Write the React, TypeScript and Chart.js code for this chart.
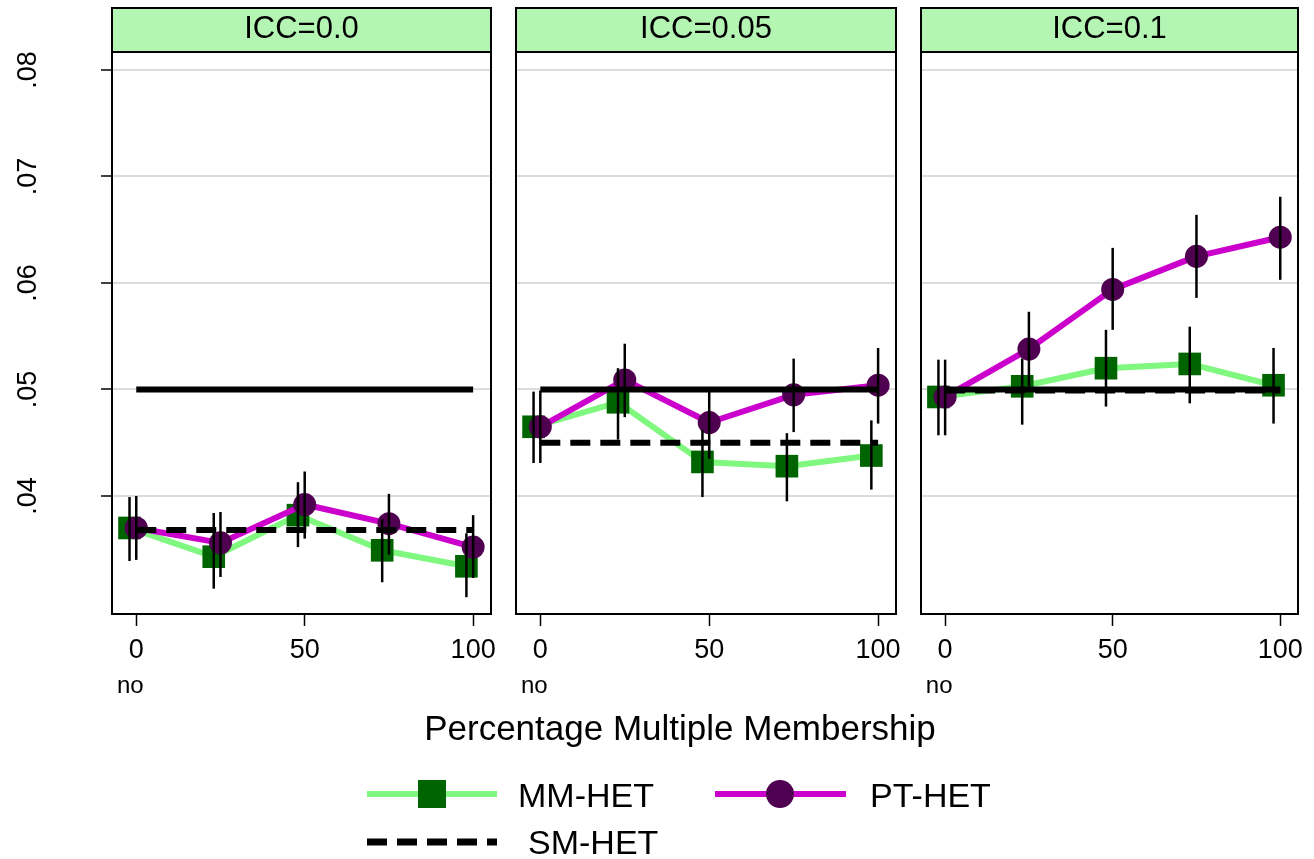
import React, { useEffect, useRef } from 'react';
import { Chart, registerables } from 'chart.js';

Chart.register(...registerables);

// ---------------- data ----------------
const panelTitles = ['ICC=0.0', 'ICC=0.05', 'ICC=0.1'];
const xValues = [0, 25, 50, 75, 100];
const mmJitter = -2; // MM-HET markers are drawn slightly left of the x value
const xTicks = [0, 50, 100];
const yTicks = [0.04, 0.05, 0.06, 0.07, 0.08];
const nominal = 0.05;

const mmHet = [
  [0.037, 0.0343, 0.0382, 0.0349, 0.0334],
  [0.0465, 0.0488, 0.0432, 0.0428, 0.0438],
  [0.0493, 0.0503, 0.052, 0.0524, 0.0504],
];
const mmLow = [
  [0.0339, 0.0313, 0.0352, 0.0319, 0.0305],
  [0.0431, 0.0453, 0.0399, 0.0395, 0.0406],
  [0.0457, 0.0467, 0.0484, 0.0487, 0.0468],
];
const mmHigh = [
  [0.0399, 0.0384, 0.0413, 0.0378, 0.0365],
  [0.0498, 0.052, 0.0462, 0.0459, 0.0471],
  [0.0528, 0.0529, 0.0556, 0.0559, 0.0539],
];

const ptHet = [
  [0.037, 0.0356, 0.0392, 0.0374, 0.0352],
  [0.0465, 0.0509, 0.0469, 0.0495, 0.0504],
  [0.0493, 0.0538, 0.0594, 0.0625, 0.0643],
];
const ptLow = [
  [0.034, 0.0324, 0.036, 0.0345, 0.0323],
  [0.0431, 0.0474, 0.0435, 0.046, 0.0468],
  [0.0457, 0.0503, 0.0556, 0.0586, 0.0603],
];
const ptHigh = [
  [0.04, 0.0385, 0.0423, 0.0402, 0.0382],
  [0.0499, 0.0543, 0.0498, 0.0529, 0.0539],
  [0.0528, 0.0573, 0.0633, 0.0664, 0.0681],
];

const smHet = [0.0368, 0.045, 0.0499];

// ---------------- styling / layout ----------------
const W = 1314;
const H = 859;
const FONT = '"Liberation Sans", Arial, Helvetica, sans-serif';
const PANEL_LEFT = [112, 516, 921];
const PANEL_RIGHT = [491, 896, 1300];
const PLOT_TOP = 52;
const PLOT_BOTTOM = 614;
const HEADER_TOP = 8;
const X_MIN = -7.2;
const X_MAX = 105.3;
const Y_MIN = 0.02892;
const Y_MAX = 0.08169;

const C_MM_LINE = '#80f880';
const C_MM_MARK = '#006400';
const C_PT_LINE = '#cc00cc';
const C_PT_MARK = '#500050';
const C_HEADER = '#b4f5b4';
const C_GRID = '#dcdcdc';

function drawFigureText(ctx: CanvasRenderingContext2D) {
  ctx.save();
  ctx.fillStyle = '#000';
  ctx.textBaseline = 'alphabetic';
  ctx.textAlign = 'center';
  ctx.font = `35px ${FONT}`;
  ctx.fillText('Percentage Multiple Membership', 680, 740);

  // legend
  ctx.textAlign = 'left';
  ctx.lineCap = 'butt';
  // MM-HET
  ctx.strokeStyle = C_MM_LINE;
  ctx.lineWidth = 6;
  ctx.beginPath();
  ctx.moveTo(367, 794);
  ctx.lineTo(497, 794);
  ctx.stroke();
  ctx.fillStyle = C_MM_MARK;
  ctx.fillRect(432 - 14, 794 - 14, 28, 28);
  // PT-HET
  ctx.strokeStyle = C_PT_LINE;
  ctx.beginPath();
  ctx.moveTo(715, 794);
  ctx.lineTo(846, 794);
  ctx.stroke();
  ctx.fillStyle = C_PT_MARK;
  ctx.beginPath();
  ctx.arc(780, 794, 14, 0, Math.PI * 2);
  ctx.fill();
  // SM-HET
  ctx.strokeStyle = '#000';
  ctx.lineWidth = 7;
  ctx.setLineDash([20, 10]);
  ctx.beginPath();
  ctx.moveTo(367, 842);
  ctx.lineTo(497, 842);
  ctx.stroke();
  ctx.setLineDash([]);

  ctx.fillStyle = '#000';
  ctx.font = `34px ${FONT}`;
  ctx.fillText('MM-HET', 518, 807);
  ctx.fillText('PT-HET', 870, 807);
  ctx.fillText('SM-HET', 528, 854);
  ctx.restore();
}

function makePlugin(i: number) {
  return {
    id: 'panelDeco' + i,
    afterDatasetsDraw(chart: any) {
      const { ctx, scales } = chart;
      const x = scales.x;
      const y = scales.y;
      ctx.save();
      ctx.strokeStyle = '#000';
      ctx.lineWidth = 2.5;
      const bar = (xv: number, lo: number, hi: number) => {
        const px = x.getPixelForValue(xv);
        ctx.beginPath();
        ctx.moveTo(px, y.getPixelForValue(lo));
        ctx.lineTo(px, y.getPixelForValue(hi));
        ctx.stroke();
      };
      xValues.forEach((xv, j) => {
        bar(xv + mmJitter, mmLow[i][j], mmHigh[i][j]);
        bar(xv, ptLow[i][j], ptHigh[i][j]);
      });
      ctx.restore();
    },
    afterDraw(chart: any) {
      const { ctx, chartArea: a, scales } = chart;
      ctx.save();
      ctx.fillStyle = C_HEADER;
      ctx.fillRect(a.left, HEADER_TOP, a.right - a.left, a.top - HEADER_TOP);
      ctx.strokeStyle = '#000';
      ctx.lineWidth = 2;
      ctx.strokeRect(a.left, HEADER_TOP, a.right - a.left, a.top - HEADER_TOP);
      ctx.strokeRect(a.left, a.top, a.right - a.left, a.bottom - a.top);
      ctx.fillStyle = '#000';
      ctx.textAlign = 'center';
      ctx.textBaseline = 'alphabetic';
      ctx.font = `31px ${FONT}`;
      ctx.fillText(panelTitles[i], (a.left + a.right) / 2, 38);
      ctx.font = `24px ${FONT}`;
      ctx.fillText('no', scales.x.getPixelForValue(0) - 6, 692.5);
      ctx.restore();
      if (i === 1) drawFigureText(ctx);
    },
  };
}

function buildConfig(i: number): any {
  const lineTo = (v: number) => [
    { x: xValues[0], y: v },
    { x: xValues[xValues.length - 1], y: v },
  ];
  return {
    type: 'line',
    data: {
      datasets: [
        {
          label: 'nominal',
          data: lineTo(nominal),
          borderColor: '#000',
          borderWidth: 6,
          pointRadius: 0,
          order: 0,
        },
        {
          label: 'SM-HET',
          data: lineTo(smHet[i]),
          borderColor: '#000',
          borderWidth: 6,
          borderDash: [20, 10],
          pointRadius: 0,
          order: 1,
        },
        {
          label: 'PT-HET',
          data: xValues.map((xv, j) => ({ x: xv, y: ptHet[i][j] })),
          borderColor: C_PT_LINE,
          borderWidth: 6,
          pointStyle: 'circle',
          pointRadius: 11.5,
          pointBackgroundColor: C_PT_MARK,
          pointBorderColor: C_PT_MARK,
          pointBorderWidth: 0,
          order: 2,
        },
        {
          label: 'MM-HET',
          data: xValues.map((xv, j) => ({ x: xv + mmJitter, y: mmHet[i][j] })),
          borderColor: C_MM_LINE,
          borderWidth: 6,
          pointStyle: 'rect',
          pointRadius: 16,
          pointBackgroundColor: C_MM_MARK,
          pointBorderColor: C_MM_MARK,
          pointBorderWidth: 0,
          order: 3,
        },
      ],
    },
    options: {
      responsive: false,
      animation: false,
      devicePixelRatio: 1,
      events: [],
      layout: { padding: { left: 0, right: W - PANEL_RIGHT[i], top: PLOT_TOP, bottom: 0 } },
      elements: { line: { tension: 0, borderJoinStyle: 'round' } },
      plugins: { legend: { display: false }, tooltip: { enabled: false }, title: { display: false } },
      scales: {
        x: {
          type: 'linear',
          min: X_MIN,
          max: X_MAX,
          afterBuildTicks: (s: any) => {
            s.ticks = xTicks.map((v) => ({ value: v }));
          },
          afterFit: (s: any) => {
            s.height = H - PLOT_BOTTOM;
            s.paddingLeft = 0;
            s.paddingRight = 0;
          },
          border: { display: false },
          grid: {
            display: true,
            drawOnChartArea: false,
            drawTicks: true,
            tickLength: 12,
            tickColor: '#000',
            tickWidth: 1.5,
          },
          ticks: {
            color: '#000',
            font: { family: FONT, size: 27 },
            padding: 8,
            maxRotation: 0,
            minRotation: 0,
            callback: (v: any) => String(v),
          },
        },
        y: {
          type: 'linear',
          min: Y_MIN,
          max: Y_MAX,
          afterBuildTicks: (s: any) => {
            s.ticks = yTicks.map((v) => ({ value: v }));
          },
          afterFit: (s: any) => {
            s.width = PANEL_LEFT[i];
            s.paddingTop = 0;
            s.paddingBottom = 0;
          },
          border: { display: false },
          grid: {
            color: C_GRID,
            lineWidth: 2,
            drawTicks: i === 0,
            tickLength: 11,
            tickColor: '#000',
            tickWidth: 1.5,
          },
          ticks: {
            display: i === 0,
            color: '#000',
            font: { family: FONT, size: 27 },
            minRotation: 90,
            maxRotation: 90,
            crossAlign: 'center',
            padding: 54,
            callback: (v: any) => String(v).replace(/^0/, ''),
          },
        },
      },
    },
    plugins: [makePlugin(i)],
  };
}

function Panel({ index }: { index: number }) {
  const ref = useRef<HTMLCanvasElement | null>(null);
  useEffect(() => {
    if (!ref.current) return;
    const chart = new Chart(ref.current, buildConfig(index));
    return () => chart.destroy();
  }, [index]);
  return (
    <canvas
      ref={ref}
      width={W}
      height={H}
      style={{ position: 'absolute', left: 0, top: 0, width: W, height: H }}
    />
  );
}

export default function App() {
  return (
    <div
      style={{
        position: 'fixed',
        left: 0,
        top: 0,
        width: W,
        height: H,
        background: '#fff',
        overflow: 'hidden',
      }}
    >
      {[0, 1, 2].map((i) => (
        <Panel key={i} index={i} />
      ))}
    </div>
  );
}
